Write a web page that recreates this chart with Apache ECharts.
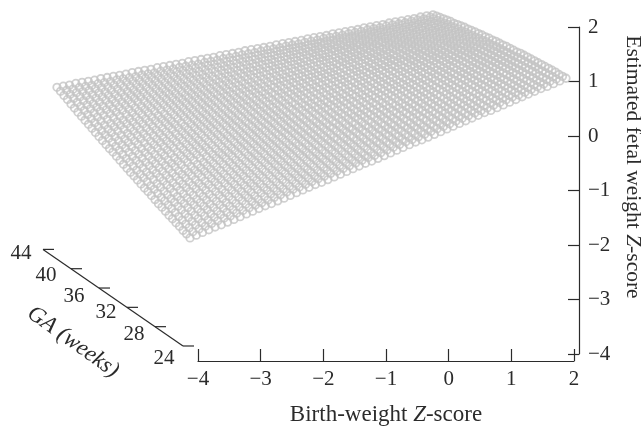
<!DOCTYPE html>
<html><head><meta charset="utf-8">
<style>html,body{margin:0;padding:0;background:#fff}#c{width:641px;height:426px}</style>
<script src="https://cdn.jsdelivr.net/npm/echarts@6/dist/echarts.min.js"></script>
</head><body><div id="c"></div>
<script>
const bwValues=[-4,-3.9,-3.8,-3.7,-3.6,-3.5,-3.4,-3.3,-3.2,-3.1,-3,-2.9,-2.8,-2.7,-2.6,-2.5,-2.4,-2.3,-2.2,-2.1,-2,-1.9,-1.8,-1.7,-1.6,-1.5,-1.4,-1.3,-1.2,-1.1,-1,-0.9,-0.8,-0.7,-0.6,-0.5,-0.4,-0.3,-0.2,-0.1,0,0.1,0.2,0.3,0.4,0.5,0.6,0.7,0.8,0.9,1,1.1,1.2,1.3,1.4,1.5,1.6,1.7,1.8,1.9,2];
const gaValues=[24,24.5,25,25.5,26,26.5,27,27.5,28,28.5,29,29.5,30,30.5,31,31.5,32,32.5,33,33.5,34,34.5,35,35.5,36,36.5,37,37.5,38,38.5,39,39.5,40,40.5,41,41.5,42,42.5,43];
// Estimated fetal weight Z-score x100. Edges; interior cells are eye estimates, not individually legible.
const efwTable=[
[-187,-182,-177,-172,-167,-163,-158,-153,-148,-143,-138,-133,-128,-124,-119,-114,-109,-104,-99,-94,-89,-85,-80,-75,-70,-65,-60,-55,-50,-46,-41,-36,-31,-26,-21,-16,-11,-7,-2,3,8,13,18,23,28,33,38,43,47,52,57,62,67,72,77,82,87,91,96,101,106],
[-184,-180,-175,-170,-165,-160,-155,-151,-146,-141,-136,-131,-127,-122,-117,-112,-107,-102,-98,-93,-88,-83,-78,-73,-69,-64,-59,-54,-49,-44,-40,-35,-30,-25,-20,-15,-11,-6,-1,4,9,13,18,23,28,33,38,42,47,52,57,62,67,71,76,81,86,91,96,100,105],
[-182,-177,-172,-168,-163,-158,-153,-149,-144,-139,-134,-129,-125,-120,-115,-110,-106,-101,-96,-91,-86,-82,-77,-72,-67,-63,-58,-53,-48,-44,-39,-34,-29,-24,-20,-15,-10,-5,-1,4,9,14,18,23,28,33,38,42,47,52,57,61,66,71,76,80,85,90,95,100,104],
[-179,-175,-170,-165,-160,-156,-151,-146,-142,-137,-132,-127,-123,-118,-113,-109,-104,-99,-94,-90,-85,-80,-76,-71,-66,-61,-57,-52,-47,-43,-38,-33,-28,-24,-19,-14,-10,-5,0,4,9,14,19,23,28,33,38,42,47,52,56,61,66,71,75,80,85,89,94,99,104],
[-177,-172,-167,-163,-158,-153,-149,-144,-140,-135,-130,-126,-121,-116,-112,-107,-102,-98,-93,-88,-84,-79,-74,-70,-65,-60,-56,-51,-46,-42,-37,-32,-28,-23,-18,-14,-9,-4,0,5,10,14,19,24,28,33,38,42,47,51,56,61,65,70,75,79,84,89,93,98,103],
[-174,-170,-165,-160,-156,-151,-147,-142,-137,-133,-128,-124,-119,-114,-110,-105,-101,-96,-91,-87,-82,-78,-73,-68,-64,-59,-54,-50,-45,-41,-36,-32,-27,-22,-18,-13,-9,-4,1,5,10,15,19,24,28,33,38,42,47,51,56,61,65,70,74,79,83,88,93,97,102],
[-172,-167,-162,-158,-153,-149,-144,-140,-135,-131,-126,-122,-117,-113,-108,-103,-99,-94,-90,-85,-81,-76,-72,-67,-63,-58,-53,-49,-44,-40,-35,-31,-26,-22,-17,-13,-8,-4,1,6,10,15,19,24,28,33,37,42,46,51,56,60,65,69,74,78,83,87,92,96,101],
[-169,-164,-160,-155,-151,-147,-142,-138,-133,-129,-124,-120,-115,-111,-106,-102,-97,-93,-88,-84,-79,-75,-70,-66,-61,-57,-52,-48,-43,-39,-34,-30,-25,-21,-17,-12,-8,-3,1,6,10,15,19,24,28,33,37,42,46,51,55,60,64,69,73,78,82,87,91,96,100],
[-166,-162,-157,-153,-149,-144,-140,-135,-131,-126,-122,-118,-113,-109,-104,-100,-96,-91,-87,-82,-78,-73,-69,-65,-60,-56,-51,-47,-42,-38,-34,-29,-25,-20,-16,-12,-7,-3,2,6,11,15,19,24,28,33,37,42,46,50,55,59,64,68,72,77,81,86,90,95,99],
[-164,-159,-155,-151,-146,-142,-137,-133,-129,-124,-120,-116,-111,-107,-103,-98,-94,-89,-85,-81,-76,-72,-68,-63,-59,-55,-50,-46,-42,-37,-33,-28,-24,-20,-15,-11,-7,-2,2,6,11,15,20,24,28,33,37,41,46,50,54,59,63,67,72,76,81,85,89,94,98],
[-161,-157,-152,-148,-144,-139,-135,-131,-127,-122,-118,-114,-109,-105,-101,-96,-92,-88,-84,-79,-75,-71,-66,-62,-58,-53,-49,-45,-41,-36,-32,-28,-23,-19,-15,-10,-6,-2,2,7,11,15,20,24,28,32,37,41,45,50,54,58,62,67,71,75,80,84,88,93,97],
[-158,-154,-150,-145,-141,-137,-133,-129,-124,-120,-116,-112,-107,-103,-99,-95,-90,-86,-82,-78,-74,-69,-65,-61,-57,-52,-48,-44,-40,-35,-31,-27,-23,-18,-14,-10,-6,-1,3,7,11,15,20,24,28,32,37,41,45,49,54,58,62,66,70,75,79,83,87,92,96],
[-155,-151,-147,-143,-139,-135,-130,-126,-122,-118,-114,-110,-105,-101,-97,-93,-89,-85,-80,-76,-72,-68,-64,-60,-55,-51,-47,-43,-39,-35,-30,-26,-22,-18,-14,-10,-5,-1,3,7,11,15,20,24,28,32,36,41,45,49,53,57,61,66,70,74,78,82,86,91,95],
[-153,-149,-145,-140,-136,-132,-128,-124,-120,-116,-112,-108,-103,-99,-95,-91,-87,-83,-79,-75,-71,-67,-62,-58,-54,-50,-46,-42,-38,-34,-30,-25,-21,-17,-13,-9,-5,-1,3,7,12,16,20,24,28,32,36,40,44,48,53,57,61,65,69,73,77,81,85,89,94],
[-150,-146,-142,-138,-134,-130,-126,-122,-118,-114,-110,-106,-102,-97,-93,-89,-85,-81,-77,-73,-69,-65,-61,-57,-53,-49,-45,-41,-37,-33,-29,-25,-21,-17,-13,-9,-5,-1,4,8,12,16,20,24,28,32,36,40,44,48,52,56,60,64,68,72,76,80,84,88,92],
[-147,-143,-139,-135,-131,-127,-123,-119,-115,-111,-107,-104,-100,-96,-92,-88,-84,-80,-76,-72,-68,-64,-60,-56,-52,-48,-44,-40,-36,-32,-28,-24,-20,-16,-12,-8,-4,0,4,8,12,16,20,24,28,32,36,40,44,48,51,55,59,63,67,71,75,79,83,87,91],
[-144,-141,-137,-133,-129,-125,-121,-117,-113,-109,-105,-101,-98,-94,-90,-86,-82,-78,-74,-70,-66,-62,-59,-55,-51,-47,-43,-39,-35,-31,-27,-23,-19,-16,-12,-8,-4,0,4,8,12,16,20,24,27,31,35,39,43,47,51,55,59,63,66,70,74,78,82,86,90],
[-142,-138,-134,-130,-126,-122,-119,-115,-111,-107,-103,-99,-96,-92,-88,-84,-80,-76,-73,-69,-65,-61,-57,-53,-49,-46,-42,-38,-34,-30,-26,-23,-19,-15,-11,-7,-3,0,4,8,12,16,20,23,27,31,35,39,43,46,50,54,58,62,66,69,73,77,81,85,89],
[-139,-135,-131,-128,-124,-120,-116,-112,-109,-105,-101,-97,-94,-90,-86,-82,-79,-75,-71,-67,-63,-60,-56,-52,-48,-45,-41,-37,-33,-29,-26,-22,-18,-14,-11,-7,-3,1,4,8,12,16,20,23,27,31,35,38,42,46,50,53,57,61,65,69,72,76,80,84,87],
[-136,-132,-129,-125,-121,-118,-114,-110,-106,-103,-99,-95,-92,-88,-84,-81,-77,-73,-69,-66,-62,-58,-55,-51,-47,-44,-40,-36,-32,-29,-25,-21,-18,-14,-10,-7,-3,1,5,8,12,16,19,23,27,31,34,38,42,45,49,53,56,60,64,68,71,75,79,82,86],
[-133,-130,-126,-122,-119,-115,-111,-108,-104,-100,-97,-93,-90,-86,-82,-79,-75,-71,-68,-64,-61,-57,-53,-50,-46,-42,-39,-35,-31,-28,-24,-21,-17,-13,-10,-6,-2,1,5,9,12,16,19,23,27,30,34,38,41,45,49,52,56,59,63,67,70,74,78,81,85],
[-130,-127,-123,-120,-116,-113,-109,-105,-102,-98,-95,-91,-88,-84,-80,-77,-73,-70,-66,-63,-59,-56,-52,-48,-45,-41,-38,-34,-31,-27,-24,-20,-16,-13,-9,-6,-2,1,5,8,12,16,19,23,26,30,33,37,40,44,48,51,55,58,62,65,69,72,76,80,83],
[-127,-124,-120,-117,-113,-110,-107,-103,-100,-96,-93,-89,-86,-82,-79,-75,-72,-68,-65,-61,-58,-54,-51,-47,-44,-40,-37,-33,-30,-26,-23,-19,-16,-12,-9,-5,-2,2,5,9,12,16,19,23,26,30,33,37,40,44,47,50,54,57,61,64,68,71,75,78,82],
[-125,-121,-118,-114,-111,-107,-104,-101,-97,-94,-90,-87,-84,-80,-77,-73,-70,-66,-63,-60,-56,-53,-49,-46,-43,-39,-36,-32,-29,-25,-22,-19,-15,-12,-8,-5,-2,2,5,9,12,15,19,22,26,29,33,36,39,43,46,50,53,56,60,63,67,70,73,77,80],
[-122,-118,-115,-112,-108,-105,-102,-98,-95,-92,-88,-85,-82,-78,-75,-72,-68,-65,-62,-58,-55,-51,-48,-45,-41,-38,-35,-31,-28,-25,-21,-18,-15,-11,-8,-5,-1,2,5,9,12,15,19,22,25,29,32,35,39,42,45,49,52,55,59,62,65,69,72,75,79],
[-119,-115,-112,-109,-106,-102,-99,-96,-93,-89,-86,-83,-79,-76,-73,-70,-66,-63,-60,-57,-53,-50,-47,-44,-40,-37,-34,-31,-27,-24,-21,-17,-14,-11,-8,-4,-1,2,5,9,12,15,18,22,25,28,31,35,38,41,45,48,51,54,58,61,64,67,71,74,77],
[-116,-113,-109,-106,-103,-100,-97,-93,-90,-87,-84,-81,-77,-74,-71,-68,-65,-62,-58,-55,-52,-49,-46,-42,-39,-36,-33,-30,-26,-23,-20,-17,-14,-10,-7,-4,-1,2,5,9,12,15,18,21,25,28,31,34,37,41,44,47,50,53,56,60,63,66,69,72,76],
[-113,-110,-107,-103,-100,-97,-94,-91,-88,-85,-82,-79,-75,-72,-69,-66,-63,-60,-57,-54,-50,-47,-44,-41,-38,-35,-32,-29,-26,-22,-19,-16,-13,-10,-7,-4,-1,2,5,9,12,15,18,21,24,27,30,33,37,40,43,46,49,52,55,58,61,65,68,71,74],
[-110,-107,-104,-101,-98,-95,-92,-89,-85,-82,-79,-76,-73,-70,-67,-64,-61,-58,-55,-52,-49,-46,-43,-40,-37,-34,-31,-28,-25,-22,-19,-16,-13,-10,-7,-4,-1,2,5,8,12,15,18,21,24,27,30,33,36,39,42,45,48,51,54,57,60,63,66,69,72],
[-107,-104,-101,-98,-95,-92,-89,-86,-83,-80,-77,-74,-71,-68,-65,-62,-59,-56,-54,-51,-48,-45,-42,-39,-36,-33,-30,-27,-24,-21,-18,-15,-12,-9,-6,-3,0,3,6,8,11,14,17,20,23,26,29,32,35,38,41,44,47,50,53,56,59,62,65,68,71],
[-104,-101,-98,-95,-92,-89,-86,-84,-81,-78,-75,-72,-69,-66,-63,-61,-58,-55,-52,-49,-46,-43,-40,-38,-35,-32,-29,-26,-23,-20,-17,-14,-12,-9,-6,-3,0,3,6,8,11,14,17,20,23,26,29,31,34,37,40,43,46,49,52,55,57,60,63,66,69],
[-101,-98,-95,-92,-89,-87,-84,-81,-78,-75,-73,-70,-67,-64,-61,-59,-56,-53,-50,-48,-45,-42,-39,-36,-34,-31,-28,-25,-22,-20,-17,-14,-11,-8,-6,-3,0,3,6,8,11,14,17,20,22,25,28,31,34,36,39,42,45,48,50,53,56,59,62,64,67],
[-98,-95,-92,-89,-87,-84,-81,-79,-76,-73,-70,-68,-65,-62,-60,-57,-54,-51,-49,-46,-43,-41,-38,-35,-32,-30,-27,-24,-22,-19,-16,-13,-11,-8,-5,-3,0,3,6,8,11,14,16,19,22,25,27,30,33,36,38,41,44,46,49,52,55,57,60,63,65],
[-95,-92,-89,-87,-84,-81,-79,-76,-74,-71,-68,-66,-63,-60,-58,-55,-52,-50,-47,-44,-42,-39,-37,-34,-31,-29,-26,-23,-21,-18,-15,-13,-10,-8,-5,-2,0,3,6,8,11,13,16,19,21,24,27,29,32,35,37,40,42,45,48,50,53,56,58,61,64],
[-92,-89,-86,-84,-81,-79,-76,-74,-71,-69,-66,-63,-61,-58,-56,-53,-51,-48,-46,-43,-40,-38,-35,-33,-30,-28,-25,-23,-20,-18,-15,-12,-10,-7,-5,-2,0,3,5,8,11,13,16,18,21,23,26,28,31,34,36,39,41,44,46,49,51,54,56,59,62],
[-88,-86,-83,-81,-79,-76,-74,-71,-69,-66,-64,-61,-59,-56,-54,-51,-49,-46,-44,-41,-39,-37,-34,-32,-29,-27,-24,-22,-19,-17,-14,-12,-9,-7,-4,-2,0,3,5,8,10,13,15,18,20,23,25,28,30,33,35,37,40,42,45,47,50,52,55,57,60],
[-85,-83,-80,-78,-76,-73,-71,-69,-66,-64,-61,-59,-57,-54,-52,-49,-47,-45,-42,-40,-38,-35,-33,-30,-28,-26,-23,-21,-18,-16,-14,-11,-9,-7,-4,-2,1,3,5,8,10,12,15,17,20,22,24,27,29,32,34,36,39,41,44,46,48,51,53,56,58],
[-82,-80,-78,-75,-73,-71,-68,-66,-64,-61,-59,-57,-55,-52,-50,-48,-45,-43,-41,-38,-36,-34,-32,-29,-27,-25,-22,-20,-18,-15,-13,-11,-8,-6,-4,-2,1,3,5,8,10,12,15,17,19,21,24,26,28,31,33,35,38,40,42,44,47,49,51,54,56],
[-79,-77,-75,-72,-70,-68,-66,-63,-61,-59,-57,-55,-52,-50,-48,-46,-43,-41,-39,-37,-35,-32,-30,-28,-26,-24,-21,-19,-17,-15,-12,-10,-8,-6,-4,-1,1,3,5,7,10,12,14,16,19,21,23,25,27,30,32,34,36,39,41,43,45,47,50,52,54]
];
const gaTicks=[24,28,32,36,40,44];
const gaLabelDx=[-19,-21,-21,-25,-25,-22];
const gaLabelDy=[12,8,5,8,7,4.5];
const FONT='"Liberation Serif",serif';
const INK='#2b2b2b';
// oblique view: each week of GA moves a point left and up on the page
const PX=376/6,PY=327/6;
const view=(bw,ga,z,shift)=>[bw+(shift-7*(ga-24))/PX, z+4.83*(ga-24)/PY];
const points=[];
efwTable.forEach((row,r)=>row.forEach((v,c)=>points.push(view(bwValues[c],gaValues[r],v/100,-8))));
const gaAt=ga=>view(-4,ga,-3.853,-15);
const minus=v=>String(v).replace('-','\u2212');
const richOf=s=>({a:{fontFamily:FONT,fontSize:s,color:INK},i:{fontFamily:FONT,fontSize:s,fontStyle:'italic',color:INK}});
const chart=echarts.init(document.getElementById('c'),null,{renderer:'canvas'});
const axisCommon={type:'value',min:-4,max:2,interval:1,splitLine:{show:false},
  axisLine:{show:true,onZero:false,lineStyle:{color:INK,width:1.2}},
  axisTick:{show:true,inside:true,lineStyle:{color:INK,width:1.2}},
  axisLabel:{formatter:minus,fontFamily:FONT,fontSize:21,color:INK,showMinLabel:true,showMaxLabel:true}};
chart.setOption({
  animation:false,
  grid:{left:198,width:376,top:27,height:327,outerBoundsMode:'none'},
  xAxis:{...axisCommon,position:'bottom',offset:7,axisTick:{...axisCommon.axisTick,length:12},
    axisLabel:{...axisCommon.axisLabel,margin:8},
    name:'{a|Birth-weight }{i|Z}{a|-score}',nameLocation:'middle',nameGap:42,nameTextStyle:{rich:richOf(23)}},
  yAxis:{...axisCommon,position:'right',offset:5,axisTick:{...axisCommon.axisTick,length:11},
    axisLabel:{...axisCommon.axisLabel,margin:9},
    name:'{a|Estimated fetal weight }{i|Z}{a|-score}',nameLocation:'middle',nameRotate:-90,nameGap:40,
    nameTextStyle:{rich:richOf(21.5),padding:[0,47,0,0]}},
  series:[
    {type:'scatter',data:points,clip:false,symbol:'circle',symbolSize:7.5,silent:true,large:false,
      itemStyle:{color:'rgba(255,255,255,0)',borderColor:'#c4c4c4',borderWidth:1.8}},
    {type:'custom',silent:true,clip:false,data:gaTicks.map((g,i)=>[gaAt(g)[0],gaAt(g)[1],g,i]),
      renderItem:(p,api)=>{
        const c=api.coord([api.value(0),api.value(1)]),i=api.value(3);
        const end=api.coord(gaAt(gaTicks[gaTicks.length-1]));
        const kids=[
          {type:'line',shape:{x1:c[0],y1:c[1],x2:c[0]+11,y2:c[1]},style:{stroke:INK,lineWidth:1.2}},
          {type:'text',x:c[0]+gaLabelDx[i],y:c[1]+gaLabelDy[i],style:{text:String(api.value(2)),fill:INK,font:'21px '+FONT,textAlign:'center',textVerticalAlign:'middle'}}
        ];
        if(i===0)kids.push({type:'line',shape:{x1:c[0],y1:c[1],x2:end[0],y2:end[1]},style:{stroke:INK,lineWidth:1.2}});
        return {type:'group',children:kids};
      }}
  ],
  graphic:[{type:'text',x:73,y:342,rotation:-0.62,silent:true,style:{text:'GA (weeks)',fill:INK,font:'italic 23px '+FONT,textAlign:'center',textVerticalAlign:'middle'}}]
});
</script></body></html>
